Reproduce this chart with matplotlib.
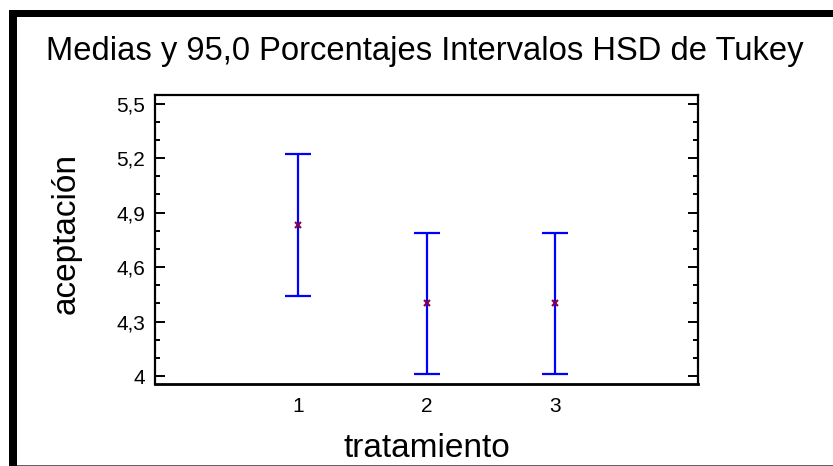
import matplotlib
matplotlib.use("Agg")
import matplotlib.pyplot as plt
from matplotlib.patches import Rectangle
from matplotlib.ticker import AutoMinorLocator

# Tukey HSD intervals
treatments = [1, 2, 3]
treatment_labels = ["1", "2", "3"]
means = [4.83, 4.40, 4.40]
hsd_half = [0.39, 0.39, 0.39]
y_ticks = [4.0, 4.3, 4.6, 4.9, 5.2, 5.5]
y_tick_labels = ["4", "4,3", "4,6", "4,9", "5,2", "5,5"]

W, H = 833, 466
plt.rcParams["font.family"] = ["Liberation Sans", "DejaVu Sans"]

fig = plt.figure(figsize=(W / 100, H / 100), dpi=100)
fig.patch.set_facecolor("white")

# window frame: thick black left/top edges, thin grey bottom line
fig.add_artist(Rectangle((9 / W, 0), 8 / W, (H - 10) / H, transform=fig.transFigure,
                         facecolor="black", edgecolor="none"))
fig.add_artist(Rectangle((9 / W, (H - 17) / H), 1, 7 / H, transform=fig.transFigure,
                         facecolor="black", edgecolor="none"))
fig.add_artist(Rectangle((17 / W, 0), 1, 1.5 / H, transform=fig.transFigure,
                         facecolor="#606060", edgecolor="none"))

ax = fig.add_axes([155 / W, (H - 384) / H, 543 / W, 289 / H])

ax.errorbar(treatments, means, yerr=hsd_half, fmt="none", ecolor="#0000FF",
            elinewidth=1.6, capsize=9.5, capthick=1.6)
ax.plot(treatments, means, linestyle="none", marker="x", markersize=4.5,
        markeredgewidth=1.5, color="#8B0046")

ax.set_xlim(-0.11, 4.11)
ax.set_ylim(3.956, 5.547)

ax.set_xticks(treatments)
ax.set_xticklabels(treatment_labels)
ax.set_yticks(y_ticks)
ax.set_yticklabels(y_tick_labels)
ax.yaxis.set_minor_locator(AutoMinorLocator(3))

ax.tick_params(axis="x", length=0, pad=9, labelsize=15)
ax.tick_params(axis="y", which="major", direction="in", length=7.2, width=1.4,
               left=True, right=True, pad=7, labelsize=15)
ax.tick_params(axis="y", which="minor", direction="in", length=3.6, width=1.4,
               left=True, right=True)

for side in ["left", "right", "top"]:
    ax.spines[side].set_linewidth(1.6)
ax.spines["bottom"].set_linewidth(2.0)

ax.set_xlabel("tratamiento", fontsize=24)
ax.xaxis.set_label_coords(0.5, -0.2526)
ax.xaxis.label.set_verticalalignment("baseline")

ax.set_ylabel("aceptación", fontsize=24)
ax.yaxis.set_label_coords(-0.1344, 0.52)

fig.text(425 / W, (H - 60) / H, "Medias y 95,0 Porcentajes Intervalos HSD de Tukey",
         fontsize=23.6, ha="center", va="baseline")

fig.savefig("out.png", dpi=100)
